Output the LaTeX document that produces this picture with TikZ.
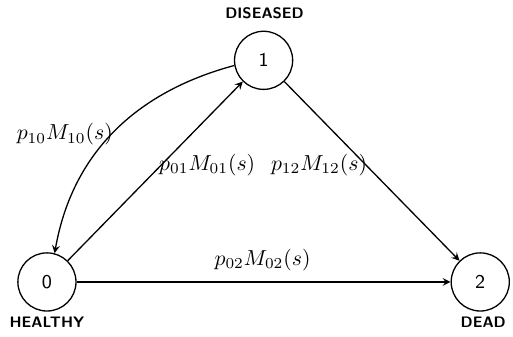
\documentclass[tikz,border=0pt]{standalone}
\usepackage{amssymb, amsmath}
\usepackage{tikz}
\usetikzlibrary{calc}
\tikzset{
  state/.style={circle, draw, line width=0.6, minimum size=0.94cm, inner sep=0pt, font=\sffamily\small},
  statename/.style={font=\sffamily\scriptsize\bfseries},
  trans/.style={->, >=stealth, line width=0.6}
}

\begin{document}
\begin{tikzpicture}[scale=1.0]

  \draw[white] (0, 0) rectangle (8.208, 5.424);

  \node[state] (n0) at (0.752, 0.88) {0};
  \node[state] (n1) at (4.256, 4.464) {1};
  \node[state] (n2) at (7.76, 0.88) {2};

  \node[statename] (l1) at (4.272, 5.232) {DISEASED};
  \node[statename] (l0) at (0.752, 0.224) {HEALTHY};
  \node[statename] (l2) at (7.808, 0.224) {DEAD};

  \draw[trans] (n0) -- (n1);
  \draw[trans] (n1) -- (n2);
  \draw[trans] (n0) -- (n2);
  \draw[trans] (n1.190) to[out=195, in=80] (n0.75);

  \node (t10) at (1.04, 3.264) { $p_{10}M_{10}(s)$ };
  \node (t01) at (3.344, 2.768) { $p_{01}M_{01}(s)$ };
  \node (t12) at (5.152, 2.768) { $p_{12}M_{12}(s)$ };
  \node (t02) at (4.24, 1.232) { $p_{02}M_{02}(s)$ };

\end{tikzpicture}
\end{document}
